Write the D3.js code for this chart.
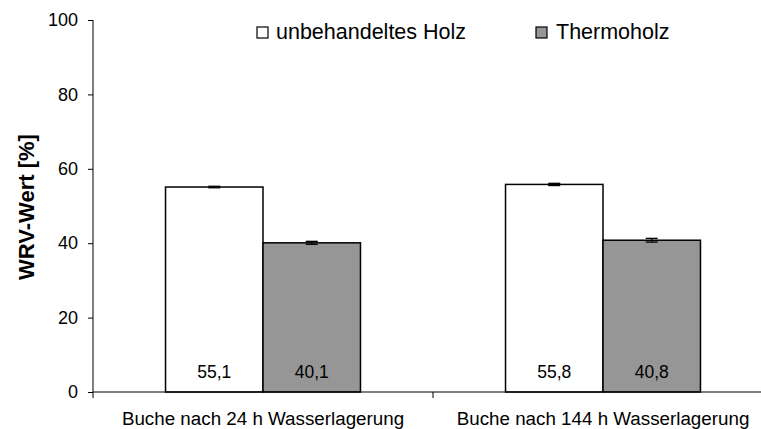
<!DOCTYPE html>
<html>
<head>
<meta charset="utf-8">
<script src="https://cdn.jsdelivr.net/npm/d3@7"></script>
<style>
  body { margin: 0; background: #fff; }
  text { font-family: "Liberation Sans", Arial, sans-serif; fill: #000; }
</style>
</head>
<body>
<div id="chart"></div>
<script>
// chart data
var categories = ["Buche nach 24 h Wasserlagerung", "Buche nach 144 h Wasserlagerung"];
var series = ["unbehandeltes Holz", "Thermoholz"];
var untreated = [55.1, 55.8];
var thermo = [40.1, 40.8];
var untreatedErr = [0.2, 0.3];
var thermoErr = [0.4, 0.5];
var valueLabels = [["55,1", "40,1"], ["55,8", "40,8"]];
var yTicks = [0, 20, 40, 60, 80, 100];

var width = 761, height = 429;
var colors = ["#ffffff", "#969696"];

var svg = d3.select("#chart").append("svg")
    .attr("width", width)
    .attr("height", height);

// plot area (right side is cut off like in the original)
var x0 = 93, x1 = 773, yTop = 20, yBottom = 392;

var x = d3.scaleBand()
    .domain(categories)
    .range([x0, x1])
    .paddingInner(0)
    .paddingOuter(0);

var xInner = d3.scaleBand()
    .domain(series)
    .range([0, x.bandwidth()])
    .paddingInner(0)
    .paddingOuter(0.744);

var y = d3.scaleLinear()
    .domain([0, 100])
    .range([yBottom, yTop]);

var rows = categories.map(function(c, i) {
  return [
    {cat: c, s: series[0], v: untreated[i], e: untreatedErr[i], label: valueLabels[i][0], col: colors[0]},
    {cat: c, s: series[1], v: thermo[i], e: thermoErr[i], label: valueLabels[i][1], col: colors[1]}
  ];
});
var flat = d3.merge(rows);

// bars
svg.append("g").selectAll("rect")
  .data(flat)
  .enter()
  .append("rect")
  .attr("x", function(d) { return x(d.cat) + xInner(d.s); })
  .attr("y", function(d) { return y(d.v); })
  .attr("width", xInner.bandwidth())
  .attr("height", function(d) { return y(0) - y(d.v); })
  .attr("fill", function(d) { return d.col; })
  .attr("stroke", "#000")
  .attr("stroke-width", 1.5);

// error bars
var err = svg.append("g").attr("stroke", "#000").attr("stroke-width", 1.3);
flat.forEach(function(d) {
  var cx = x(d.cat) + xInner(d.s) + xInner.bandwidth() / 2;
  err.append("line")
    .attr("x1", cx).attr("x2", cx)
    .attr("y1", y(d.v + d.e)).attr("y2", y(d.v - d.e));
  [d.v + d.e, d.v - d.e].forEach(function(v) {
    err.append("line")
      .attr("x1", cx - 6).attr("x2", cx + 6)
      .attr("y1", y(v)).attr("y2", y(v));
  });
});

// value labels inside bars
svg.append("g").selectAll("text")
  .data(flat)
  .enter()
  .append("text")
  .attr("x", function(d) { return x(d.cat) + xInner(d.s) + xInner.bandwidth() / 2; })
  .attr("y", 378)
  .attr("text-anchor", "middle")
  .style("font-size", "17.5px")
  .text(function(d) { return d.label; });

// y axis
var yAxis = d3.axisLeft(y)
    .tickValues(yTicks)
    .tickSize(5)
    .tickPadding(10);
var gy = svg.append("g")
    .attr("transform", "translate(" + x0 + ",0)")
    .call(yAxis);
gy.select(".domain").attr("d", "M0," + yTop + "V" + yBottom);
gy.selectAll("line").attr("stroke", "#000");
gy.selectAll("text").style("font-size", "18px")
    .attr("font-family", "Liberation Sans, Arial, sans-serif");

// x axis
var xAxis = d3.axisBottom(x).tickSize(0).tickFormat("");
var gx = svg.append("g")
    .attr("transform", "translate(0," + yBottom + ")")
    .call(xAxis);
gx.select(".domain").attr("d", "M" + x0 + ",0H" + x1);
gx.selectAll(".tick").remove();

// category boundary ticks
var bounds = categories.map(function(c) { return x(c); }).concat([x1]);
svg.append("g").selectAll("line")
  .data(bounds)
  .enter()
  .append("line")
  .attr("x1", function(d) { return d; })
  .attr("x2", function(d) { return d; })
  .attr("y1", yBottom)
  .attr("y2", yBottom + 6)
  .attr("stroke", "#000");

// category labels
svg.append("g").selectAll("text")
  .data(categories)
  .enter()
  .append("text")
  .attr("x", function(d) { return x(d) + x.bandwidth() / 2; })
  .attr("y", 425)
  .attr("text-anchor", "middle")
  .style("font-size", "18.8px")
  .text(function(d) { return d; });

// y title
svg.append("text")
  .attr("transform", "translate(34,207) rotate(-90)")
  .attr("text-anchor", "middle")
  .style("font-size", "22px")
  .style("font-weight", "bold")
  .text("WRV-Wert [%]");

// legend
var legendX = [257, 536];
var leg = svg.append("g").selectAll("g")
  .data(series)
  .enter()
  .append("g")
  .attr("transform", function(d, i) { return "translate(" + legendX[i] + ",27)"; });
leg.append("rect")
  .attr("width", 11)
  .attr("height", 11)
  .attr("fill", function(d, i) { return colors[i]; })
  .attr("stroke", "#000")
  .attr("stroke-width", 1.2);
leg.append("text")
  .attr("x", function(d, i) { return i === 0 ? 19 : 20; })
  .attr("y", 11.5)
  .style("font-size", "21.5px")
  .text(function(d) { return d; });
</script>
</body>
</html>
